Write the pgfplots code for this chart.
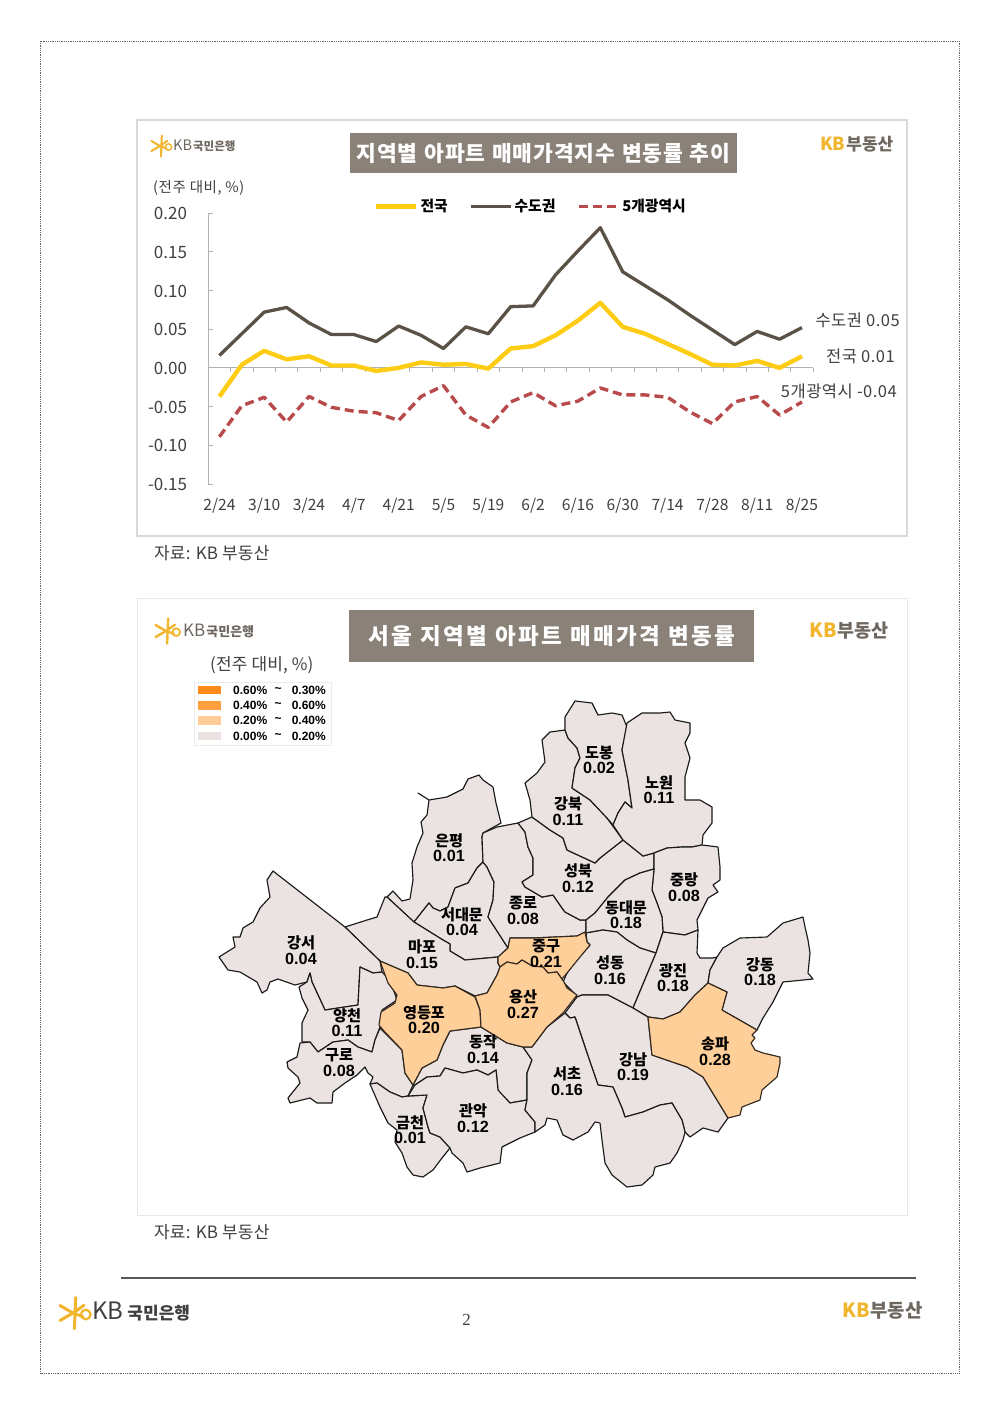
\documentclass[border=0pt]{standalone}
\usepackage{pgfplots}
\usepackage{pgfplotstable}
\pgfplotsset{compat=1.18}
\usepackage{fontspec}
\setmainfont{Noto Sans CJK KR}
\newfontfamily\arialf{Liberation Sans}
\newfontfamily\serif{Liberation Serif}
\definecolor{titlebg}{HTML}{8A8279}
\definecolor{gold}{HTML}{F2B52E}
\definecolor{logog}{HTML}{6E675F}
\definecolor{mapc}{HTML}{EBE3E1}
\definecolor{hic}{HTML}{FFCF99}
\definecolor{mapl}{HTML}{1A1A1A}
\definecolor{txt}{HTML}{404040}
\definecolor{lall}{HTML}{FFCC14}
\definecolor{lcap}{HTML}{5B5247}
\definecolor{lmet}{HTML}{B94A4C}
\newcommand{\fs}[1]{\fontsize{#1}{#1}\selectfont}
\newcommand{\ls}[1]{\addfontfeature{LetterSpace=#1}}
\newcommand{\T}[4][]{\node[inner sep=0pt,#1] at (axis cs:#2,#3) {#4};}
\newcommand{\M}[5]{\node[inner sep=0pt,text=black,yshift=0.2pt] at (axis cs:#1,#2) {\fs{15.2}\bfseries #4};\node[inner sep=0pt,text=black,yshift=-0.6pt] at (axis cs:#1,#3) {\arialf\fs{16.2}\bfseries #5};}
\newcommand{\Star}[3]{%
\draw[gold,line width=#3*0.2pt,line cap=round] (axis cs:#1,#2) +(150:#3*1pt) -- +(0:0pt) +(210:#3*1pt) -- +(0:0pt) +(80:#3*1.05pt) -- +(-85:#3*1.05pt) +(35:#3*0.9pt) -- +(0:0pt) +(-20:#3*0.7pt) -- +(0:0pt);
\draw[gold,line width=#3*0.15pt] (axis cs:#1,#2) ++(#3*0.85pt,-#3*0.1pt) circle[radius=#3*0.32pt];}
\pgfplotstableread{
x all cap met
0 -0.037 0.016 -0.089
1 0.004 0.044 -0.049
2 0.022 0.072 -0.038
3 0.011 0.078 -0.070
4 0.015 0.058 -0.037
5 0.003 0.043 -0.051
6 0.003 0.043 -0.056
7 -0.004 0.034 -0.058
8 0.000 0.054 -0.068
9 0.007 0.042 -0.037
10 0.004 0.025 -0.023
11 0.005 0.053 -0.061
12 -0.001 0.044 -0.077
13 0.025 0.079 -0.044
14 0.028 0.080 -0.032
15 0.042 0.120 -0.049
16 0.061 0.151 -0.043
17 0.084 0.181 -0.026
18 0.053 0.124 -0.035
19 0.044 0.106 -0.035
20 0.031 0.088 -0.038
21 0.018 0.068 -0.057
22 0.004 0.049 -0.072
23 0.003 0.030 -0.044
24 0.009 0.047 -0.037
25 0.000 0.037 -0.061
26 0.015 0.052 -0.044
}\ratetable
\begin{document}
\begin{tikzpicture}[x=1pt,y=1pt]
\fill[white] (0pt,0pt) rectangle (1000pt,1414pt);
\begin{axis}[at={(500pt,707pt)},anchor=center,scale only axis,width=1000pt,height=1414pt,
  xmin=0,xmax=1000,ymin=0,ymax=1414,y dir=reverse,hide axis,clip=false,
  every axis plot/.append style={no marks,line join=round,line width=1.15pt,draw=mapl}]
% frames
\draw[gray!80!black,line width=0.8pt,densely dotted] (axis cs:40.5,41) rectangle (axis cs:959,1373);
\draw[black!15,line width=1.6pt] (axis cs:137,120) rectangle (axis cs:907,536);
\draw[black!9,line width=1pt] (axis cs:137,598) rectangle (axis cs:907,1215);
\draw[black!65,line width=1.8pt] (axis cs:121,1278) -- (axis cs:916,1278);
% titles
\fill[titlebg] (axis cs:350,133) rectangle (axis cs:737,173);
\fill[titlebg] (axis cs:349,610) rectangle (axis cs:754,662);
\T{543.5}{153}{\color{white}\fs{21.5}\bfseries\ls{4} 지역별\hspace{1pt} 아파트\hspace{1pt} 매매가격지수\hspace{1pt} 변동률\hspace{1pt} 추이}
\T{551.5}{636.5}{\color{white}\fs{22.5}\bfseries\ls{10} 서울\hspace{1pt} 지역별\hspace{1pt} 아파트\hspace{1pt} 매매가격\hspace{1pt} 변동률}
% logos
\Star{160}{146}{10}
\T[anchor=west]{173}{146}{\color{logog}\fs{14.5}KB\hspace{1pt}\fs{11.5}\bfseries 국민은행}
\Star{166}{631}{12}
\T[anchor=west]{183}{631}{\color{logog}\fs{17}KB\hspace{1pt}\fs{13}\bfseries 국민은행}
\Star{73}{1313}{15}
\T[anchor=west]{92}{1312}{\color{txt}\fs{24}KB\hspace{4pt}\fs{17}\bfseries 국민은행}
\T[anchor=west]{820}{144}{\fs{18}\bfseries\color{gold}KB\hspace{1pt}\color{logog}\fs{17}부동산}
\T[anchor=west]{809}{630.5}{\fs{19.5}\bfseries\color{gold}KB\hspace{1pt}\color{logog}\fs{18.5}부동산}
\T[anchor=west]{842}{1310}{\fs{19.5}\bfseries\color{gold}KB\hspace{1pt}\color{logog}\fs{18.8}부동산}
% captions
\T[anchor=west]{153}{187.5}{\color{txt}\fs{14.5}\ls{4}(전주 대비, \%)}
\T[anchor=west]{210}{665.5}{\color{txt}\fs{17}\ls{1}(전주 대비, \%)}
\T[anchor=west]{154}{553}{\color{txt}\fs{17}\ls{1}자료: KB 부동산}
\T[anchor=west]{154}{1232}{\color{txt}\fs{17}\ls{1}자료: KB 부동산}
\T{466.5}{1320}{\color{txt}\serif\fs{17}2}
% end labels
\T[anchor=east]{900}{320.5}{\color{txt}\fs{16.5}\ls{3}수도권 0.05}
\T[anchor=east]{895}{356.5}{\color{txt}\fs{16.5}\ls{3}전국 0.01}
\T[anchor=east]{897}{391}{\color{txt}\fs{16.5}\ls{3}5개광역시 -0.04}
% map legend
\draw[black!8,fill=white,line width=0.8pt] (axis cs:194,682) rectangle (axis cs:331,745);
\fill[fill={rgb,255:red,255;green,140;blue,26}] (axis cs:198,686) rectangle (axis cs:221,694);
\fill[fill={rgb,255:red,255;green,160;blue,64}] (axis cs:198,701) rectangle (axis cs:221,710);
\fill[fill={rgb,255:red,255;green,204;blue,153}] (axis cs:198,716) rectangle (axis cs:221,725);
\fill[mapc] (axis cs:198,732) rectangle (axis cs:221,740);
\T[anchor=west]{233}{690}{\arialf\fs{12}\bfseries 0.60\%}\T{278}{690}{\arialf\fs{12}\bfseries \textasciitilde}\T[anchor=east]{326}{690}{\arialf\fs{12}\bfseries 0.30\%}
\T[anchor=west]{233}{705.5}{\arialf\fs{12}\bfseries 0.40\%}\T{278}{705.5}{\arialf\fs{12}\bfseries \textasciitilde}\T[anchor=east]{326}{705.5}{\arialf\fs{12}\bfseries 0.60\%}
\T[anchor=west]{233}{720.5}{\arialf\fs{12}\bfseries 0.20\%}\T{278}{720.5}{\arialf\fs{12}\bfseries \textasciitilde}\T[anchor=east]{326}{720.5}{\arialf\fs{12}\bfseries 0.40\%}
\T[anchor=west]{233}{736}{\arialf\fs{12}\bfseries 0.00\%}\T{278}{736}{\arialf\fs{12}\bfseries \textasciitilde}\T[anchor=east]{326}{736}{\arialf\fs{12}\bfseries 0.20\%}
% map polygons
\addplot[fill=mapc] coordinates {(429,800)(447,797)(463,789)(468,779)(479,775)(483,780)(493,787)(496,803)(501,823)(483,833)(482,837)(483,862)(477,868)(468,883)(455,888)(448,907)(440,911)(433,908)(429,903)(414,922)(387,897)(393,891)(402,901)(410,899)(413,880)(412,863)(417,847)(423,833)(421,822)(427,815)(429,800)(418,793)} --cycle;
\addplot[fill=mapc] coordinates {(414,922)(429,903)(433,908)(440,911)(448,907)(455,888)(468,883)(477,868)(483,862)(487,867)(494,882)(493,900)(488,917)(508,948)(498,957)(465,960)(450,951)(450,944)(443,940)} --cycle;
\addplot[fill=mapc] coordinates {(345,927)(367,920)(377,917)(385,897)(387,897)(414,922)(443,940)(450,944)(450,951)(465,960)(498,957)(498,963)(500,967)(497,975)(487,993)(475,996)(455,986)(443,988)(417,985)(408,973)(380,961)} --cycle;
\addplot[fill=mapc] coordinates {(273,871)(267,880)(270,897)(260,908)(253,922)(243,928)(240,937)(233,937)(235,947)(219,957)(228,970)(240,972)(257,982)(262,993)(267,990)(270,982)(278,979)(295,985)(307,982)(310,973)(312,982)(325,1010)(358,1005)(360,967)(373,973)(382,972)(380,961)(345,927)} --cycle;
\addplot[fill=mapc] coordinates {(299,987)(307,982)(310,973)(312,982)(325,1010)(358,1005)(360,967)(373,973)(382,972)(390,980)(397,1000)(382,1010)(380,1027)(375,1040)(372,1052)(358,1047)(348,1040)(333,1042)(318,1052)(310,1042)(302,1042)(302,1023)(308,1010)(302,998)} --cycle;
\addplot[fill=mapc] coordinates {(300,1043)(310,1042)(318,1052)(333,1042)(348,1040)(358,1047)(372,1052)(375,1040)(380,1028)(402,1050)(405,1073)(413,1085)(408,1096)(402,1097)(390,1092)(377,1083)(370,1084)(373,1077)(368,1073)(365,1067)(357,1075)(345,1083)(333,1092)(332,1103)(317,1103)(310,1098)(290,1103)(288,1098)(300,1083)(298,1077)(288,1068)(287,1062)(297,1057)} --cycle;
\addplot[fill=mapc] coordinates {(370,1084)(377,1083)(390,1092)(402,1097)(408,1096)(427,1095)(423,1108)(428,1127)(430,1133)(440,1137)(450,1148)(442,1158)(433,1170)(423,1177)(413,1175)(407,1167)(402,1153)(395,1142)(397,1130)(388,1123)(380,1107)} --cycle;
\addplot[fill=mapc] coordinates {(413,1085)(422,1068)(437,1060)(443,1045)(450,1031)(481,1027)(507,1043)(523,1047)(532,1060)(527,1073)(527,1100)(510,1103)(500,1093)(498,1090)(496,1070)(488,1075)(477,1070)(463,1073)(445,1068)(440,1076)(427,1077)(415,1085)} --cycle;
\addplot[fill=mapc] coordinates {(408,1096)(415,1085)(427,1077)(440,1076)(445,1068)(463,1073)(477,1070)(488,1075)(496,1070)(498,1090)(510,1103)(527,1100)(525,1110)(535,1122)(535,1132)(520,1138)(502,1147)(500,1163)(480,1168)(467,1172)(463,1163)(452,1153)(450,1148)(440,1137)(430,1133)(428,1127)(423,1108)(427,1095)} --cycle;
\addplot[fill=mapc] coordinates {(497,827)(518,823)(525,832)(528,847)(533,858)(533,875)(522,882)(525,887)(542,897)(553,895)(562,908)(565,912)(580,920)(586,920)(586,933)(577,936)(533,938)(510,938)(508,948)(488,917)(493,900)(494,882)(487,867)(483,862)(482,837)(483,833)} --cycle;
\addplot[fill=mapc] coordinates {(518,823)(532,817)(550,830)(563,838)(567,850)(595,863)(600,858)(623,840)(643,856)(654,853)(654,869)(640,873)(625,880)(608,897)(595,913)(586,920)(580,920)(565,912)(562,908)(553,895)(542,897)(525,887)(522,882)(533,875)(533,858)(528,847)(525,832)} --cycle;
\addplot[fill=mapc] coordinates {(532,817)(530,800)(525,783)(537,773)(545,762)(542,740)(550,732)(565,730)(568,738)(577,748)(580,758)(575,768)(572,788)(590,800)(607,818)(612,825)(623,840)(600,858)(595,863)(567,850)(563,838)(550,830)} --cycle;
\addplot[fill=mapc] coordinates {(565,730)(565,717)(575,701)(592,703)(598,715)(612,713)(622,715)(627,727)(622,750)(628,780)(632,808)(625,802)(618,813)(613,825)(607,818)(590,800)(572,788)(575,768)(580,758)(577,748)(568,738)} --cycle;
\addplot[fill=mapc] coordinates {(627,723)(642,713)(660,713)(670,712)(675,720)(690,723)(690,733)(685,743)(690,758)(685,777)(685,800)(700,800)(712,807)(712,823)(703,835)(702,845)(692,847)(682,847)(667,848)(654,853)(643,856)(623,840)(613,825)(618,813)(625,802)(632,808)(628,780)(622,750)} --cycle;
\addplot[fill=mapc] coordinates {(654,853)(667,848)(682,847)(692,847)(702,845)(718,847)(720,867)(720,880)(713,885)(718,892)(708,898)(697,920)(698,930)(685,935)(663,932)(662,917)(657,903)(652,890)(654,869)} --cycle;
\addplot[fill=mapc] coordinates {(586,920)(595,913)(608,897)(625,880)(640,873)(654,869)(652,890)(657,903)(662,917)(663,932)(656,953)(640,948)(627,940)(617,932)(603,930)(586,933)} --cycle;
\addplot[fill=mapc] coordinates {(586,933)(603,930)(617,932)(627,940)(640,948)(656,953)(633,1008)(608,995)(582,995)(577,997)(573,992)(563,982)(567,973)(575,962)(590,945)(587,942)} --cycle;
\addplot[fill=mapc] coordinates {(656,953)(663,932)(685,935)(698,930)(697,953)(700,958)(713,958)(717,957)(710,970)(708,983)(695,995)(680,1012)(663,1019)(648,1017)(633,1008)} --cycle;
\addplot[fill=mapc] coordinates {(717,957)(723,948)(740,938)(767,937)(783,923)(803,917)(805,927)(808,940)(810,953)(808,973)(813,979)(783,982)(773,1002)(763,1018)(757,1030)(722,1010)(727,992)(708,983)(710,970)} --cycle;
\addplot[fill=mapc] coordinates {(577,997)(582,995)(608,995)(633,1008)(648,1017)(652,1055)(687,1067)(703,1077)(728,1118)(718,1132)(703,1128)(690,1137)(685,1132)(682,1120)(672,1103)(660,1105)(643,1112)(625,1117)(622,1108)(613,1087)(598,1085)(587,1053)(575,1017)(570,1018)(565,1013)} --cycle;
\addplot[fill=mapc] coordinates {(565,1013)(570,1018)(575,1017)(587,1053)(598,1085)(613,1087)(622,1108)(625,1117)(643,1112)(660,1105)(672,1103)(682,1120)(685,1132)(683,1140)(677,1153)(670,1163)(655,1167)(653,1175)(642,1185)(627,1187)(612,1175)(605,1163)(602,1140)(600,1123)(595,1122)(588,1132)(573,1140)(563,1135)(557,1120)(547,1118)(545,1125)(535,1132)(535,1122)(525,1110)(527,1100)(527,1073)(532,1060)(523,1047)(532,1047)(547,1027)} --cycle;
\addplot[fill=hic,draw=black!80!hic] coordinates {(380,961)(408,973)(417,985)(443,988)(455,986)(475,997)(480,1010)(481,1027)(450,1031)(443,1045)(437,1060)(422,1068)(413,1085)(405,1073)(402,1050)(383,1030)(379,1025)(381,1012)(395,1003)(397,995)(388,983)} --cycle;
\addplot[fill=hic,draw=black!80!hic] coordinates {(498,957)(508,948)(510,938)(533,938)(577,936)(585,932)(587,942)(590,945)(580,957)(567,973)(562,979)(557,972)(548,973)(543,967)(532,966)(522,960)(517,964)(507,962)(500,967)(498,963)} --cycle;
\addplot[fill=hic,draw=black!80!hic] coordinates {(481,1027)(480,1010)(475,996)(487,993)(497,975)(500,967)(507,962)(517,964)(522,960)(532,966)(543,967)(548,973)(557,972)(564,982)(567,988)(577,995)(563,1013)(547,1027)(532,1047)(523,1047)(507,1043)} --cycle;
\addplot[fill=hic,draw=black!80!hic] coordinates {(708,983)(727,992)(722,1010)(757,1030)(752,1035)(755,1038)(751,1043)(755,1050)(763,1053)(780,1057)(780,1063)(777,1077)(762,1090)(760,1100)(742,1107)(740,1115)(728,1118)(703,1077)(687,1067)(652,1055)(648,1017)(663,1019)(680,1012)(695,995)} --cycle;
% map labels
\M{599}{753}{767}{도봉}{0.02}
\M{659}{783}{797}{노원}{0.11}
\M{568}{804}{819}{강북}{0.11}
\M{449}{841}{855}{은평}{0.01}
\M{578}{871}{886}{성북}{0.12}
\M{684}{880}{895}{중랑}{0.08}
\M{523}{903}{918}{종로}{0.08}
\M{626}{908}{922}{동대문}{0.18}
\M{462}{915}{929}{서대문}{0.04}
\M{301}{943}{958}{강서}{0.04}
\M{422}{947}{962}{마포}{0.15}
\M{546}{946}{961}{중구}{0.21}
\M{610}{963}{978}{성동}{0.16}
\M{673}{971}{985}{광진}{0.18}
\M{760}{965}{979}{강동}{0.18}
\M{523}{997}{1012}{용산}{0.27}
\M{424}{1013}{1027}{영등포}{0.20}
\M{347}{1016}{1030}{양천}{0.11}
\M{483}{1042}{1057}{동작}{0.14}
\M{339}{1055}{1070}{구로}{0.08}
\M{715}{1044}{1059}{송파}{0.28}
\M{633}{1060}{1074}{강남}{0.19}
\M{567}{1074}{1089}{서초}{0.16}
\M{473}{1111}{1126}{관악}{0.12}
\M{410}{1123}{1137}{금천}{0.01}
\end{axis}
\begin{axis}[at={(208.2pt,930pt)},anchor=south west,scale only axis,width=605pt,height=271pt,
  xmin=-0.5,xmax=26.5,ymin=-0.15,ymax=0.20,clip=false,
  axis x line=bottom,axis y line=left,
  x axis line style={draw=none},y axis line style={draw=black!30,line width=0.9pt,-},
  xtick={0,2,...,26},xticklabels={2/24,3/10,3/24,4/7,4/21,5/5,5/19,6/2,6/16,6/30,7/14,7/28,8/11,8/25},
  ytick={-0.15,-0.10,-0.05,0,0.05,0.10,0.15,0.20},
  xtick style={draw=none},ytick style={draw=black!30,line width=0.8pt},
  tick align=inside,major tick length=5pt,
  yticklabel={\pgfmathprintnumber[fixed,fixed zerofill,precision=2,assume math mode=true]{\tick}},
  /pgf/number format/assume math mode=true,
  yticklabel style={font=\fs{17},text=txt,inner sep=0pt,xshift=-21pt,yshift=-0.6pt,anchor=east},
  xticklabel style={font=\fs{15.6},text=txt,inner sep=0pt,yshift=-27pt,anchor=base},
  legend columns=3,
  legend style={at={(0.274,1.024)},anchor=west,draw=none,fill=none,font=\fs{14.8}\bfseries,inner sep=0pt,
    /tikz/every even column/.append style={column sep=19.5pt}},
  legend image code/.code={\draw[#1] (0pt,0pt) -- (40pt,0pt);},
  legend cell align=left]
\pgfplotsinvokeforeach{-0.5,0.5,...,26.5}{\draw[black!30,line width=0.8pt] (axis cs:#1,0) -- ++(0pt,-4.5pt);}
\draw[black!30,line width=0.9pt] (axis cs:-0.5,0) -- (axis cs:26.5,0);
\addplot[no marks,lall,line width=4.4pt,line join=round] table[x=x,y=all] {\ratetable};
\addlegendentry{전국}
\addplot[no marks,lcap,line width=3.3pt,line join=round] table[x=x,y=cap] {\ratetable};
\addlegendentry{수도권}
\addplot[no marks,lmet,line width=3.4pt,line join=round,dash pattern=on 9pt off 5pt] table[x=x,y=met] {\ratetable};
\addlegendentry{5개광역시}
\end{axis}
\end{tikzpicture}
\end{document}
